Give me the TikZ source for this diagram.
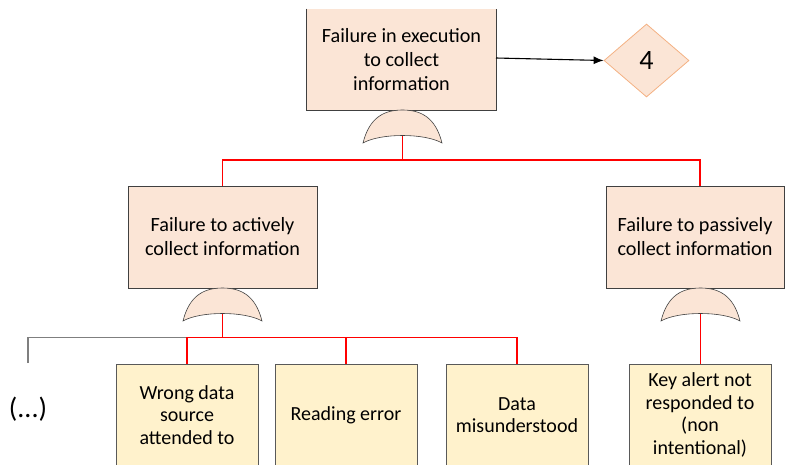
\documentclass[tikz,border=0pt]{standalone}
\usepackage{fontspec}
\setmainfont{Carlito}
\usetikzlibrary{shapes.geometric,arrows.meta}

\definecolor{peach}{HTML}{FBE5D6}
\definecolor{cream}{HTML}{FFF2CC}
\definecolor{boxline}{HTML}{404040}
\definecolor{leafline}{HTML}{595959}
\definecolor{diamline}{HTML}{F4B183}
\definecolor{linkred}{HTML}{FF0000}
\definecolor{linkgrey}{HTML}{7F7F7F}

\tikzset{
  event/.style={rectangle, fill=peach, draw=boxline, line width=0.8pt,
    minimum width=189pt, minimum height=102pt, align=center, inner sep=0pt,
    font=\fontsize{20.2}{24}\selectfont},
  leaf/.style={rectangle, fill=cream, draw=leafline, line width=0.8pt,
    minimum width=142pt, minimum height=102pt, align=center, inner sep=0pt,
    font=\fontsize{20}{22.5}\selectfont},
  transfer/.style={diamond, fill=peach, draw=diamline, line width=0.8pt,
    minimum width=85pt, minimum height=73pt, inner sep=0pt,
    font=\fontsize{28}{32}\selectfont},
  orgate/.style={fill=peach, draw=boxline, line width=0.6pt},
  redlink/.style={draw=linkred, line width=1.3pt},
  greylink/.style={draw=linkgrey, line width=1.1pt},
}

\newcommand{\orshape}[2]{%
  \draw[orgate] (#1-39.5,#2+33) .. controls (#1-33,#2+7) and (#1-18,#2) .. (#1,#2)
    .. controls (#1+18,#2) and (#1+33,#2+7) .. (#1+39.5,#2+33)
    .. controls (#1+22,#2+23) and (#1-22,#2+23) .. cycle;}

\begin{document}
\begin{tikzpicture}[x=1pt, y=-1pt]
\useasboundingbox (0,0) rectangle (785,464);
\clip (0,0) rectangle (785,464);

% top event: fill with side and bottom borders (top runs off the page)
\node[event, draw=none, minimum height=101pt] (top) at (401.5,59.5)
  {Failure in execution\\to collect\\information};
\draw[boxline, line width=0.8pt] (top.north west) -- (top.south west)
  -- (top.south east) -- (top.north east);

% transfer symbol
\node[transfer] (t4) at (646.5,60.5) {4};
\coordinate (tout) at (496,58);
\draw[-{Latex[length=10pt,width=8pt]}, line width=1.1pt] (tout) -- (t4.west);

% intermediate events
\node[event] (act) at (222.5,237) {Failure to actively\\collect information};
\node[event, minimum width=178pt] (pas) at (695,237) {Failure to passively\\collect information};

% basic events
\node[leaf] (wrong) at (187,415) {Wrong data\\source\\attended to};
\node[leaf] (read)  at (346,415) {Reading error};
\node[leaf] (mis)   at (517,415) {Data\\misunderstood};
\node[leaf] (key)   at (700,415) {Key alert not\\responded to\\(non\\intentional)};

\node[font=\fontsize{28}{32}\selectfont] (more) at (28,409) {(...)};

% OR gates
\orshape{402.5}{110}
\orshape{222.5}{288}
\orshape{700.5}{288}
\coordinate (g1) at (402.5,135.5);
\coordinate (g2) at (222.5,313.5);
\coordinate (g3) at (700.5,313.5);

% connectors from gates to inputs
\coordinate (bus1) at (0,160);
\coordinate (bus2) at (0,337.5);
\coordinate (pasin) at (700,186);
\coordinate (morein) at (28,363);
\draw[redlink] (g1) -- (g1 |- bus1);
\draw[redlink] (act.north) -- (act.north |- bus1) -- (pasin |- bus1) -- (pasin);
\draw[greylink] (morein) -- (morein |- bus2) -- (wrong.north |- bus2);
\draw[redlink] (g2) -- (g2 |- bus2);
\draw[redlink] (wrong.north) -- (wrong.north |- bus2) -- (mis.north |- bus2) -- (mis.north);
\draw[redlink] (read.north) -- (read.north |- bus2);
\draw[redlink] (g3) -- (key.north -| g3);
\end{tikzpicture}
\end{document}
